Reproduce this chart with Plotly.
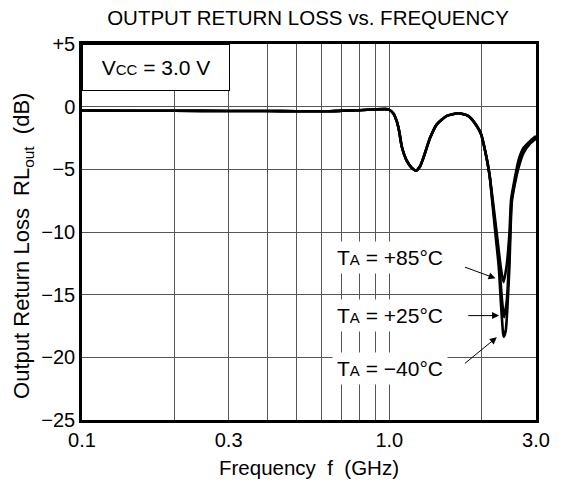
import numpy as np
import plotly.graph_objects as go

# shared part of the three curves (GHz, dB)
freq_common = [0.1, 0.15, 0.2, 0.3, 0.4, 0.5, 0.64, 0.7, 0.8, 0.9, 0.97, 1.0, 1.032, 1.058, 1.077,
               1.098, 1.14, 1.184, 1.222, 1.259, 1.291, 1.358, 1.427, 1.538, 1.679, 1.809, 1.925,
               1.989, 2.05, 2.117]
rl_common = [-0.3, -0.32, -0.33, -0.34, -0.35, -0.36, -0.36, -0.33, -0.28, -0.22, -0.2, -0.25, -0.56,
             -1.2, -2.0, -3.2, -4.33, -4.9, -5.1, -4.75, -4.07, -2.47, -1.41, -0.74, -0.53, -0.75,
             -1.54, -2.21, -3.54, -5.4]

# resonance dip, per temperature
freq_m40 = [2.16, 2.214, 2.27, 2.304, 2.345, 2.358, 2.392, 2.428, 2.458, 2.477, 2.503, 2.56, 2.63, 2.73, 2.87, 3.0]
rl_m40 = [-7.5, -10.15, -12.8, -15.5, -18.1, -18.35, -17.85, -15.5, -12.8, -10.15, -7.6, -6.2, -4.9, -3.7, -2.95, -2.55]

freq_25 = [2.165, 2.225, 2.282, 2.327, 2.363, 2.41, 2.446, 2.471, 2.497, 2.56, 2.63, 2.73, 2.87, 3.0]
rl_25 = [-7.5, -10.15, -12.8, -15.5, -16.8, -15.5, -12.8, -10.15, -7.5, -5.95, -4.6, -3.5, -2.85, -2.45]

freq_85 = [2.171, 2.237, 2.304, 2.351, 2.404, 2.458, 2.49, 2.56, 2.63, 2.73, 2.87, 3.0]
rl_85 = [-7.5, -10.15, -12.8, -14.0, -12.8, -10.15, -7.4, -5.7, -4.3, -3.3, -2.75, -2.35]

x_tickvals = [0.1, 0.3, 1.0, 3.0]
x_ticktext = ["0.1", "0.3", "1.0", "3.0"]
x_minor = [0.2, 0.4, 0.5, 0.6, 0.7, 0.8, 0.9, 2.0]
y_tickvals = [5, 0, -5, -10, -15, -20, -25]
y_ticktext = ["+5", "0", "\u22125", "\u221210", "\u221215", "\u221220", "\u221225"]

FONT = "Arial, Liberation Sans, sans-serif"

fig = go.Figure()
for fx, fy in [(freq_m40, rl_m40), (freq_25, rl_25), (freq_85, rl_85)]:
    fig.add_trace(go.Scatter(
        x=freq_common + fx, y=rl_common + fy, mode="lines",
        line=dict(color="black", width=2.6, shape="spline", smoothing=0.6),
        showlegend=False, hoverinfo="skip",
    ))

small = '<span style="font-size:15px">{}</span>'

annotations = [
    # Vcc box
    dict(text="V" + small.format("CC") + " = 3.0 V", xref="paper", yref="paper", x=0, y=1,
         xanchor="left", yanchor="top", showarrow=False, width=146, height=45, borderpad=0,
         bgcolor="white", bordercolor="black", borderwidth=1, font=dict(size=21)),
    # y title
    dict(text="Output Return Loss  RL<sub>out</sub>  (dB)", xref="paper", yref="paper",
         x=-0.13, y=0.463, xanchor="center", yanchor="middle", textangle=-90,
         showarrow=False, font=dict(size=22)),
]

labels = [("+85\u00b0C", -12.05), ("+25\u00b0C", -16.7), ("\u221240\u00b0C", -20.9)]
for txt, yv in labels:
    annotations.append(dict(text="T" + small.format("A") + " = " + txt, x=np.log10(1.006), y=yv,
                            xref="x", yref="y", showarrow=False, bgcolor="white", borderpad=4,
                            font=dict(size=21)))

# arrows: (tail f, tail dB, head f, head dB)
arrows = [(1.742, -12.76, 2.215, -13.7), (1.786, -16.67, 2.275, -16.67), (1.742, -20.58, 2.237, -18.4)]
for tf, tdb, hf, hdb in arrows:
    annotations.append(dict(text="", x=np.log10(hf), y=hdb, ax=np.log10(tf), ay=tdb,
                            xref="x", yref="y", axref="x", ayref="y", showarrow=True,
                            arrowhead=2, arrowsize=1.4, arrowwidth=1, arrowcolor="black"))

fig.update_layout(
    width=561, height=485,
    margin=dict(l=82, r=25, t=44, b=65, autoexpand=False),
    paper_bgcolor="white", plot_bgcolor="white",
    font=dict(family=FONT, size=20, color="black"),
    title=dict(text="OUTPUT RETURN LOSS vs. FREQUENCY", x=0.549, xanchor="center",
               y=0.964, yanchor="middle", yref="container", font=dict(size=20.5)),
    annotations=annotations,
)
fig.update_xaxes(
    type="log", range=[np.log10(0.1), np.log10(3.0)], automargin=False,
    tickvals=x_tickvals, ticktext=x_ticktext, ticks="",
    showgrid=True, gridcolor="#555", gridwidth=1,
    minor=dict(tickvals=x_minor, showgrid=True, gridcolor="#555", gridwidth=1, ticks=""),
    showline=True, linecolor="black", linewidth=2.5, mirror=True,
    title=dict(text="Frequency  f  (GHz)", font=dict(size=20.5), standoff=11),
    zeroline=False,
)
fig.update_yaxes(
    range=[-25, 5], automargin=False, tickvals=y_tickvals, ticktext=y_ticktext, ticks="",
    showgrid=True, gridcolor="#555", gridwidth=1,
    showline=True, linecolor="black", linewidth=2.5, mirror=True,
    zeroline=False,
)

fig.write_html("out.html", config={"displayModeBar": False},
               post_script="document.body.style.margin='0px';")
